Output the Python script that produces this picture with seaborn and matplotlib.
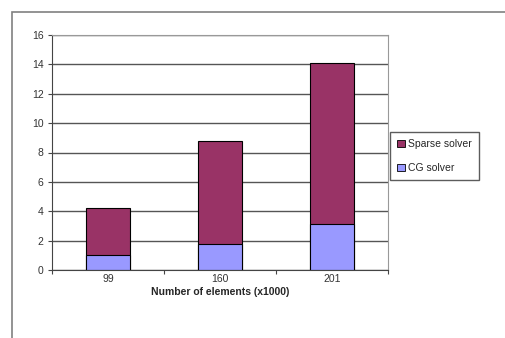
import pandas as pd
import matplotlib.pyplot as plt
import seaborn as sns
from matplotlib.patches import Rectangle, Patch

elements = ['99', '160', '201']
cg_solver = [1.0, 1.8, 3.1]
sparse_solver = [3.2, 7.0, 11.0]

df = pd.DataFrame({'elements': elements, 'cg': cg_solver, 'sparse': sparse_solver})
df['total'] = df['cg'] + df['sparse']

sns.set_style('white')
plt.rcParams['font.family'] = ['Liberation Sans', 'DejaVu Sans']

fig = plt.figure(figsize=(5.05, 3.38), dpi=100)
fig.patches.append(Rectangle((12 / 505, -0.1), 1.2, (338 - 12) / 338 + 0.1,
                             transform=fig.transFigure, fill=False,
                             edgecolor='#808080', linewidth=1.2))
ax = fig.add_axes([52 / 505, 68 / 338, 336 / 505, 235 / 338])

sns.barplot(data=df, x='elements', y='total', color='#993366', width=0.4,
            edgecolor='black', linewidth=0.8, saturation=1, ax=ax)
sns.barplot(data=df, x='elements', y='cg', color='#9999FF', width=0.4,
            edgecolor='black', linewidth=0.8, saturation=1, ax=ax)

ax.set_ylim(0, 16)
ax.set_xlim(-0.5, 2.5)
ax.set_yticks(range(0, 17, 2))
ax.yaxis.grid(True, color='#555555', linewidth=1.0)
ax.set_axisbelow(True)
for s in ['top', 'right']:
    ax.spines[s].set_color('#999999')
for s in ['left', 'bottom']:
    ax.spines[s].set_color('#444444')
ax.tick_params(axis='y', length=3, width=0.8, color='#444444', left=True,
               labelsize=7.5, colors='#333333', pad=3)
ax.tick_params(axis='x', length=0, labelsize=7.5, colors='#333333', pad=3)
ax.set_xticks([-0.5, 0.5, 1.5, 2.5], minor=True)
ax.tick_params(axis='x', which='minor', length=3, width=0.8, color='#444444', bottom=True)
ax.set_ylabel('')
ax.set_xlabel('Number of elements (x1000)', fontsize=7.5, fontweight='bold', labelpad=2)

handles = [Patch(facecolor='#993366', edgecolor='black', linewidth=0.6, label='Sparse solver'),
           Patch(facecolor='#9999FF', edgecolor='black', linewidth=0.6, label='CG solver')]
fig.legend(handles=handles, loc='upper left', bbox_to_anchor=(390 / 505, 1 - 132 / 338),
           fontsize=7.5, frameon=True, fancybox=False, edgecolor='#333333',
           handlelength=0.7, handleheight=0.7, handletextpad=0.3, borderpad=0.7,
           labelspacing=1.3, borderaxespad=0)

fig.savefig('out.png', dpi=100)
